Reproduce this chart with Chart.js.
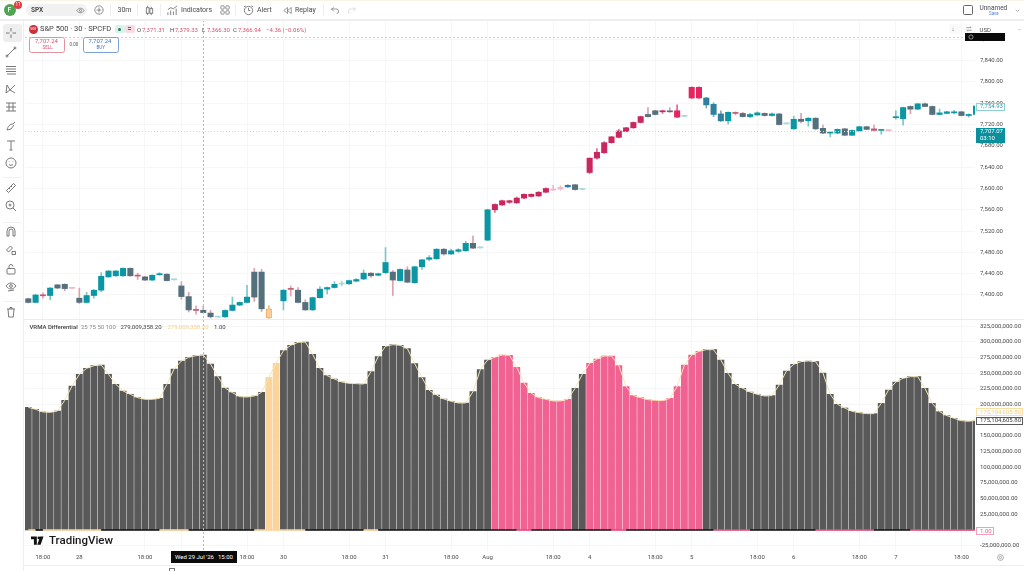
<!DOCTYPE html>
<html>
<head>
<meta charset="utf-8">
<title>SPX VRMA Differential</title>
<script src="https://cdn.jsdelivr.net/npm/chart.js@4"></script>
<style>
    html, body { margin: 0; padding: 0; background: #fff; }
    body { width: 1024px; height: 571px; position: relative; overflow: hidden; font-family: Roboto, sans-serif; color: #4a4a4a; }
    canvas { position: absolute; left: 0; filter: blur(0.35px); }
    #chrome { filter: blur(0.3px); position: absolute; left: 0; top: 0; width: 1024px; height: 571px; }
    .t { position: absolute; white-space: nowrap; line-height: 1; }
    .box { position: absolute; box-sizing: border-box; }
    svg.icon { position: absolute; fill: none; stroke: #6a6a6a; stroke-width: 0.9; }
</style>
</head>
<body>
<canvas id="priceChart" width="1024" height="299" style="top:20px"></canvas>
<canvas id="vrmaChart" width="1024" height="245" style="top:320px"></canvas>
<div id="chrome"></div>

<script>
// Candles, one entry per 30m bar
const candleOpen = [
    7386,7386,7399,7399,7413,7420,7413,7394,7386,7399,
    7409,7434,7436,7436,7450,7436,7434,7428,7438,7439,
    7429,7417,7397,7371.5,7371.31,7366,7359,7359,7371,7381,
    7386,7396,7443,7374,null,7389,7411,7409,7386,7372,
    7395,7411,7414,7421,7421,7426,7430,7441,7437,7442,
    7443,7427,7447,7423,7453,7467,7468,7486,7477,7482,
    7483,7497,7489,7503,7560,7569,7574,7573,7582,7585,
    7586,7593,7597,7599,7603,7607,7598.5,7630,7657,7667,
    7686,7696,7707,7714,7724,7735,7739,7744,7744,7746,
    7736,7770,7770,7770,7758,7740,7727,7741,7741,7735,
    7738,7741,7737,7740,7722,7712,7730,7727,7732,7713,
    7704,7704,7712,7700,7708,7716,7712,7709,7709,7733,
    7731,7754,7749,7759,7754,7739,7741,7742,7744,7737,7739
];
const candleHigh = [
    7394,7401,7404,7414,7420,7421,7414,7413,7405,7410,
    7442,7446,7446,7451,7451,7441,7435,7438,7442,7440,
    7430,7425,7405,7379.4,7379.33,7371,7360,7372,7396,7387,
    7418,7450,7448,7380,null,7410,7417,7414,7391,7396,
    7416,7415,7425,7426,7428,7431,7447,7442,7441,7489,
    7446,7449,7453,7454,7467,7474,7487,7487,7486,7487,
    7501,7511,7490,7561,7571,7578,7578,7584,7590,7590,
    7594,7601,7606,7605,7607,7608,7599,7657,7675,7688,
    7698,7711,7715,7725,7736,7752,7747,7747,7752,7757,
    7737,7791,7791,7771,7761,7746,7744,7744,7743,7741,
    7744,7742,7742,7741,7723,7736,7741,7733,7733,7719,
    7706,7712,7713,7710,7717,7717,7719,7710,7710,7746,
    7753,7755,7760,7761,7755,7749,7745,7747,7745,7740,7760
];
const candleLow = [
    7385,7386,7394,7391,7412,7408,7412,7384,7385,7394,
    7406,7433,7435,7435,7435,7429,7427,7427,7437,7426,
    7428,7392,7368,7364,7366.3,7357,7358,7358,7370,7380,
    7385,7388,7369,7356,null,7372,7398,7385,7371,7371,
    7394,7402,7413,7417,7420,7425,7429,7433,7436,7440,
    7399,7426,7423,7422,7448,7464,7467,7475,7476,7480,
    7482,7487,7488,7502,7555,7568,7572,7572,7581,7584,
    7585,7592,7596.5,7597,7602,7597,7598,7628,7655,7666,
    7685,7695,7706,7713,7723,7734,7738,7741,7743,7733,
    7735,7769,7769,7751,7735,7726,7721,7738,7734,7733,
    7737,7736,7736,7719,7721,7711,7723,7717,7710,7703,
    7697,7703,7699,7699,7707,7710,7708,7702,7708,7730,
    7719,7740,7748,7753,7738,7738,7740,7740,7736,7734,7738
];
const candleClose = [
    7393,7400,7398.5,7413,7419,7412,7412.5,7386,7399,7409,
    7435,7445,7445,7450,7436,7435.5,7428,7437,7440,7427,
    7428.5,7397,7372,7371,7366.94,7359,7358.5,7371,7381,7386,
    7396,7443,7374,7357,null,7409,7410.5,7386,7372,7395,
    7411,7414,7420,7420.5,7427,7429,7441,7436,7440,7461,
    7428,7448,7424,7453,7466,7470,7486,7477,7483,7485,
    7497,7488,7488.5,7560,7570,7577,7577,7582,7589,7589,
    7593,7600,7598,7602,7606,7598,7598.2,7657,7668,7686,
    7697,7708,7714,7724,7735,7739,7746,7746,7745,7734,
    7735.5,7790,7790,7757,7739,7727,7743,7742,7735,7739,
    7742,7737,7740,7720,7721.5,7730,7726,7732,7712,7704,
    7704.5,7711,7700,7709,7716,7711,7709,7709.5,7708.5,7734,
    7752,7749,7759,7754,7739,7742,7744,7744,7737,7739,7754.93
];
// T teal, S slate, R crimson, P bright red, B blue, X small red cross, D pale teal dash, E pale red dash, O orange
const candleKinds = (
    'STXTSSESTT' + 'TTTTSXSTTS' + 'DSSXSSDTTT' + 'TSSOTTXSST' + 'TTTDTTTSTT' +
    'STSTTTTSTT' + 'TSDTRRRRRR' + 'RREEBSDRRR' + 'RRRRRSSRSP' + 'DPPBBBTXST' +
    'TSTSDTSTSS' + 'TTSTTSXTET' + 'TSTSSTTTSTT').split('');

// VRMA Differential histogram, values read in millions
const vrmaValues = [
    195.7,192.5,188.3,187.7,189.8,206.9,229.7,248.3,257.9,262.2,
    263.2,248.3,232.4,221.8,216.4,211.1,208.5,208.5,210,232.4,
    256.9,269.6,275.5,278.1,279.009,264.8,244.6,226.5,219.1,212.7,
    212.2,213.8,219.6,243.6,265.9,286.1,294.6,299.4,299.9,280.3,
    257.9,246.2,240.9,236.1,234,233.5,232.9,252.6,276.5,293,
    295.7,294.6,289.3,265.4,243,222.8,215.4,209,205.3,202.6,
    202.6,220.7,255.8,271.2,275.5,279.2,278.7,259.5,234.5,218,
    211.1,208.5,205.8,205.8,208.5,226,248.3,265.9,272.8,277.6,
    277.6,262.2,228.7,214.3,211.1,207.9,206.9,206.3,210,228.7,
    263.2,279.2,285,287.7,287.7,271.2,249.9,232.4,226,220.2,
    216.4,213.8,214.3,231.3,253.7,264.3,268.6,269.6,268.6,250.5,
    216.4,200.5,194.6,189.3,187.2,185.6,185.6,202,223.4,236.1,
    242,244.6,244.6,226,202,188.8,182.5,178.2,174.4,173.4,175.104605
];
// g grey, o orange, p pink
const vrmaKinds = (
    'gggggggggg' + 'gggggggggg' + 'gggggggggg' + 'gggooggggg' + 'gggggggggg' +
    'gggggggggg' + 'ggggpppppp' + 'pppppggppp' + 'pppppppppp' + 'pppggggggg' +
    'gggggggggg' + 'gggggggggg' + 'ggggggggggg').split('');
// Thin strip along the zero line: k black, o orange, p pink
const stripKinds = (
    'okoooooooo' + 'kkkkkkkkoo' + 'ookkkkkkkk' + 'koooooookk' + 'kkkkkkoo' + 'kk' +
    'kkkkkkkkkk' + 'kkkkkkkppk' + 'kkkkkkkkkk' + 'ppkkkkkkkk' + 'kkkkpppppk' +
    'kkkkkkkkpp' + 'ppppppkkkk' + 'kppppppppp' + 'p').split('');
const stripLevel = 1;

const priceTicks = [7400,7440,7480,7520,7560,7600,7640,7680,7720,7760,7800,7840,7880];
const vrmaTicks = [-25,25,50,75,100,125,150,175,200,225,250,275,300,325];
const timeTickBars = [2,7,16,21,30,35,44,49,58,63,72,77,86,91,100,105,114,119,128];
const timeTickLabels = ['18:00','28','18:00','29','18:00','30','18:00','31','18:00','Aug','18:00','4','18:00','5','18:00','6','18:00','7','18:00'];

const hoverBar = 24;
const hoverPrice = 7884.5;
const lastClose = 7754.93;
const livePrice = 7707.07;
const vrmaLast = 175.1046058;

const axisFont = { family: 'Roboto, sans-serif', size: 6 };
const axisColor = '#4a4a4a';
const gridColor = '#f6f6f6';

const bodyColors = { T: '#0a96a3', S: '#54707c', R: '#c8285f', P: '#e6245f', B: '#2f7f9f', X: '#c25a70', D: '#a6d8db', E: '#f0b8c4', O: '#fbcf9a' };
const wickColors = { T: '#7cc6cc', S: '#dba2ae', R: '#d9708f', P: '#e0688c', B: '#78a9bc', X: '#e8a0b0', D: '#a6d8db', E: '#f0b8c4', O: '#f3b886' };
const vrmaColors = { g: '#595959', o: '#fbd49c', p: '#f06292' };
const stripColors = { k: '#151515', o: '#fbd49c', p: '#ea4c84' };

// Draws the dashed crosshair, price lines and value tags through the scales
const paneMarks = {
    id: 'paneMarks',
    afterDatasetsDraw(chart, args, opts) {
        const { ctx, chartArea, scales } = chart;
        ctx.save();
        const hx = Math.round(scales.x.getPixelForValue(hoverBar)) + 0.5;
        ctx.strokeStyle = '#b4b8c4';
        ctx.lineWidth = 1;
        ctx.setLineDash([2, 2]);
        ctx.beginPath();
        ctx.moveTo(hx, chartArea.top);
        ctx.lineTo(hx, chartArea.bottom);
        ctx.stroke();
        (opts.lines || []).forEach(line => {
            const ly = Math.round(scales.y.getPixelForValue(line.value)) + 0.5;
            ctx.strokeStyle = line.color;
            ctx.setLineDash(line.dash);
            ctx.beginPath();
            ctx.moveTo(chartArea.left, ly);
            ctx.lineTo(chartArea.right, ly);
            ctx.stroke();
        });
        ctx.restore();
    },
    afterDraw(chart, args, opts) {
        const { ctx, chartArea, scales } = chart;
        ctx.save();
        ctx.textBaseline = 'middle';
        ctx.font = '6px Roboto, sans-serif';
        (opts.tags || []).forEach(tag => {
            const cy = scales.y.getPixelForValue(tag.value) + (tag.shift || 0);
            const h = tag.height || 8;
            const x = chartArea.right + 1;
            ctx.fillStyle = tag.fill;
            ctx.fillRect(x, cy - h / 2, tag.width, h);
            ctx.strokeStyle = tag.border;
            ctx.strokeRect(x + 0.5, Math.round(cy - h / 2) + 0.5, tag.width - 1, h - 1);
            ctx.fillStyle = tag.color;
            tag.lines.forEach((text, i) => {
                ctx.fillText(text, x + 4, cy - (tag.lines.length - 1) * 3.5 + i * 7);
            });
        });
        ctx.restore();
    }
};

// The pane edges are fixed, so no room is kept for overflowing tick labels
function fitYAxis(scale) {
    scale.width = 49;
    scale.paddingTop = 0;
    scale.paddingBottom = 0;
}

function xAxis(showLabels) {
    return {
        type: 'linear',
        min: -0.453,
        max: 129.86,
        offset: false,
        grid: { color: gridColor, drawTicks: false, offset: false },
        border: { display: false },
        afterBuildTicks: scale => { scale.ticks = timeTickBars.map(v => ({ value: v })); },
        afterFit: scale => {
            scale.height = showLabels ? 14 : 0;
            scale.paddingLeft = 0;
            scale.paddingRight = 0;
        },
        ticks: {
            display: showLabels,
            autoSkip: false,
            maxRotation: 0,
            padding: 3,
            color: axisColor,
            font: axisFont,
            callback: value => timeTickLabels[timeTickBars.indexOf(value)]
        }
    };
}

function buildPriceChart() {
    const bars = candleOpen.map((_, i) => i);
    return new Chart(document.getElementById('priceChart'), {
        type: 'bar',
        plugins: [paneMarks],
        data: {
            datasets: [
                {
                    label: 'Body',
                    order: 0,
                    grouped: false,
                    barThickness: 5.4,
                    minBarLength: 1,
                    data: bars.map(i => ({ x: i, y: candleOpen[i] === null ? null : [candleOpen[i], candleClose[i]] })),
                    backgroundColor: candleKinds.map(k => bodyColors[k]),
                    borderColor: candleKinds.map(k => k === 'O' ? '#f0aa66' : bodyColors[k]),
                    borderWidth: candleKinds.map(k => k === 'O' ? 1 : 0),
                    borderSkipped: false
                },
                {
                    label: 'Wick',
                    order: 1,
                    grouped: false,
                    barThickness: 1,
                    data: bars.map(i => ({ x: i, y: candleHigh[i] === null ? null : [candleLow[i], candleHigh[i]] })),
                    backgroundColor: candleKinds.map(k => wickColors[k])
                }
            ]
        },
        options: {
            responsive: false,
            animation: false,
            events: [],
            layout: { padding: { left: 25 } },
            plugins: {
                legend: { display: false },
                tooltip: { enabled: false },
                paneMarks: {
                    lines: [
                        { value: hoverPrice, color: '#cfcfcf', dash: [2, 2] },
                        { value: livePrice, color: '#b4e2e5', dash: [1, 2] }
                    ],
                    tags: [
                        { value: lastClose, shift: 1, width: 29, fill: '#ffffff', border: '#8fd0d6', color: '#2a9aa5', lines: ['7,754.93'] },
                        { value: livePrice, shift: 4, width: 29, height: 15, fill: '#0a8f9c', border: '#0a8f9c', color: '#ffffff', lines: ['7,707.07', '03:10'] }
                    ]
                }
            },
            scales: {
                x: xAxis(false),
                y: {
                    position: 'right',
                    min: 7354.9,
                    max: 7916.4,
                    grid: { color: gridColor, drawTicks: false },
                    border: { display: false },
                    afterBuildTicks: scale => { scale.ticks = priceTicks.map(v => ({ value: v })); },
                    afterFit: fitYAxis,
                    ticks: {
                        padding: 5,
                        color: axisColor,
                        font: axisFont,
                        callback: value => value.toLocaleString('en-US', { minimumFractionDigits: 2 })
                    }
                }
            }
        }
    });
}

function buildVrmaChart() {
    const bars = vrmaValues.map((v, i) => ({ x: i, y: v }));
    return new Chart(document.getElementById('vrmaChart'), {
        type: 'bar',
        plugins: [paneMarks],
        data: {
            datasets: [
                {
                    type: 'line',
                    label: 'Strip',
                    order: 0,
                    data: stripKinds.map((k, i) => ({ x: i, y: stripLevel / 1e6 })),
                    borderWidth: 1.6,
                    pointRadius: 0,
                    segment: { borderColor: c => stripColors[stripKinds[c.p0DataIndex]] }
                },
                {
                    type: 'line',
                    label: 'VRMA line',
                    order: 1,
                    data: bars,
                    borderColor: '#f4e6b4',
                    borderWidth: 1,
                    pointRadius: 0
                },
                {
                    label: 'VRMA',
                    order: 2,
                    grouped: false,
                    barThickness: 6.2,
                    data: bars,
                    backgroundColor: vrmaKinds.map(k => vrmaColors[k])
                }
            ]
        },
        options: {
            responsive: false,
            animation: false,
            events: [],
            layout: { padding: { left: 25 } },
            plugins: {
                legend: { display: false },
                tooltip: { enabled: false },
                paneMarks: {
                    tags: [
                        { value: vrmaLast, shift: -8, width: 47, fill: '#ffffff', border: '#f8dfa6', color: '#f3cc80', lines: ['175,104,605.80'] },
                        { value: vrmaLast, shift: 0.5, width: 47, fill: '#ffffff', border: '#5a5a5a', color: '#3a3a3a', lines: ['175,104,605.80'] },
                        { value: stripLevel / 1e6, shift: 1.5, width: 18, fill: '#ffffff', border: '#f0a0bc', color: '#e8608c', lines: ['1.00'] }
                    ]
                }
            },
            scales: {
                x: xAxis(true),
                y: {
                    position: 'right',
                    min: -33.5,
                    max: 335,
                    grid: { color: gridColor, drawTicks: false },
                    border: { display: false },
                    afterBuildTicks: scale => { scale.ticks = vrmaTicks.map(v => ({ value: v })); },
                    afterFit: fitYAxis,
                    ticks: {
                        padding: 5,
                        color: axisColor,
                        font: axisFont,
                        callback: value => (value * 1e6).toLocaleString('en-US', { minimumFractionDigits: 2 })
                    }
                }
            }
        }
    });
}

// Page furniture round the charts
const chrome = document.getElementById('chrome');

function addText(x, y, text, size, color, weight) {
    const el = document.createElement('div');
    el.className = 't';
    el.textContent = text;
    el.style.cssText = `left:${x}px;top:${y}px;font-size:${size}px;color:${color || '#4a4a4a'};font-weight:${weight || 400}`;
    chrome.appendChild(el);
    return el;
}

function addBox(x, y, w, h, css) {
    const el = document.createElement('div');
    el.className = 'box';
    el.style.cssText = `left:${x}px;top:${y}px;width:${w}px;height:${h}px;${css}`;
    chrome.appendChild(el);
    return el;
}

function addIcon(x, y, paths, size) {
    const s = size || 12;
    const wrap = document.createElement('div');
    wrap.innerHTML = `<svg class="icon" viewBox="0 0 12 12" width="${s}" height="${s}" style="left:${x - s / 2}px;top:${y - s / 2}px">${paths}</svg>`;
    chrome.appendChild(wrap.firstChild);
}

function buildChrome() {
    // top bar and frame
    addBox(0, 0, 1024, 1, 'background:#f7f5e6');
    addBox(0, 19, 1024, 2, 'background:#eeeeee');
    addBox(23, 21, 1, 550, 'background:#eeeeee');
    addBox(24, 319, 1000, 1, 'background:#ececec');
    addBox(24, 565, 1000, 1, 'background:#eeeeee');

    addBox(4, 4, 12, 12, 'background:#4fa352;border-radius:50%');
    addText(7.5, 7, 'F', 7, '#fff', 500);
    addBox(14, 1, 8, 8, 'background:#e53945;border-radius:50%');
    addText(15.6, 3, '11', 4.5, '#fff');
    addBox(26, 4, 61, 12, 'background:#f1f1f1;border-radius:6px');
    addText(31, 6.5, 'SPX', 6.5, '#4a4a4a', 700);
    addIcon(80.5, 10, '<path d="M1 6c3-4 7-4 10 0-3 4-7 4-10 0z"/><circle cx="6" cy="6" r="1.5"/>', 9);
    addIcon(99, 10, '<circle cx="6" cy="6" r="5"/><path d="M6 3v6M3 6h6"/>', 10);
    addText(117.5, 6.5, '30m', 7);
    addIcon(149, 10, '<path d="M4 1v10M8 2v9"/><rect x="2.5" y="3" width="3" height="6" fill="#fff"/><rect x="6.5" y="4" width="3" height="5" fill="#fff"/>', 11);
    addIcon(172, 10, '<path d="M1 11V8M4 11V6M7 11V7M10 11V4M1 5l3-2 3 1 4-3"/>', 11);
    addText(181, 6.5, 'Indicators', 7);
    addIcon(225, 10, '<rect x="1" y="1" width="4" height="4" rx="1"/><rect x="7" y="1" width="4" height="4" rx="1"/><rect x="1" y="7" width="4" height="4" rx="1"/><rect x="7" y="7" width="4" height="4" rx="1"/>', 10);
    addIcon(248, 10, '<circle cx="6" cy="6" r="4.5"/><path d="M6 3v3h2M1 2l2-1M11 2L9 1"/>', 11);
    addText(257, 6.5, 'Alert', 7);
    addIcon(287, 10, '<path d="M6 2L1 6l5 4zM11 2L6 6l5 4z"/>', 9);
    addText(295, 6.5, 'Replay', 7);
    addIcon(334, 10, '<path d="M2 4h6a3 3 0 0 1 1 6M2 4l3-2M2 4l3 3"/>', 9);
    addIcon(352, 10, '<path d="M10 4H4a3 3 0 0 0-1 6M10 4L7 2M10 4L7 7" stroke="#cfcfcf"/>', 9);
    [110, 137, 160, 235, 323].forEach(x => addBox(x, 4, 1, 12, 'background:#eeeeee'));
    addBox(963, 5, 10, 10, 'border:1px solid #666;border-radius:1.5px');
    addText(979.5, 5, 'Unnamed', 6.5);
    addText(989, 12, 'Save', 4.5, '#5a7fd8');
    addIcon(1017, 10, '<path d="M3 4.5l3 3 3-3"/>', 7);

    // left tool strip
    addBox(3, 24, 19, 18, 'background:#eeeeee;border-radius:3px');
    const tools = [
        [33, '<path d="M6 1v3.5M6 7.5V11M1 6h3.5M7.5 6H11"/>'],
        [52, '<path d="M2 10l8-8"/><circle cx="2" cy="10" r="1"/><circle cx="10" cy="2" r="1"/>'],
        [70, '<path d="M1 2.5h10M1 5h10M1 7.5h10M2 10h9"/>'],
        [89, '<path d="M2 2l3 5 5-5M5 7l5 3M2 2l-1 8 4-3"/>'],
        [107, '<path d="M1 2h10M1 6h10M1 10h10M4 2v8M8 2v8"/>'],
        [126, '<path d="M2 10c1-4 3-6 6-6l2-2M2 10l4-1 3-4"/>'],
        [145, '<path d="M2 2h8M6 2v9M4.5 11h3"/>'],
        [163, '<circle cx="6" cy="6" r="5"/><path d="M4 7.5c1 1 3 1 4 0M4.2 4.5v.6M7.8 4.5v.6"/>'],
        [188, '<path d="M1.5 8.5l7-7 2 2-7 7zM4 6l1 1M6 4l1 1"/>'],
        [206, '<circle cx="5" cy="5" r="4"/><path d="M8 8l3 3M3.5 5h3M5 3.5v3"/>'],
        [231, '<path d="M2 11V6a4 4 0 0 1 8 0v5H8V6a2 2 0 0 0-4 0v5z"/>'],
        [250, '<path d="M1.5 6l4-4 2 2-4 4zM7 7.5h3.5v3H7z"/>'],
        [269, '<rect x="2" y="5.5" width="8" height="5.5" rx="1"/><path d="M4 5.5V3.5a2 2 0 0 1 4 0"/>'],
        [287, '<path d="M1 5c3-4 7-4 10 0-3 4-7 4-10 0zM3 10l6-1"/><circle cx="6" cy="5" r="1.4"/>'],
        [312, '<path d="M2 3h8M5 3V1.5h2V3M3 3l.7 8h4.6L9 3"/>']
    ];
    tools.forEach(t => addIcon(11, t[0], t[1]));
    [177, 222, 301].forEach(y => addBox(3, y, 18, 1, 'background:#f0f0f0'));

    // series legend
    addBox(29, 24.5, 9, 9, 'background:#cc2f3c;border-radius:50%');
    addText(30.3, 27.5, '500', 3.5, '#fff');
    addText(40, 25, 'S&P 500 · 30 · SPCFD', 7.5, '#3f3f3f');
    addBox(115, 25, 10, 8, 'background:#d9f2ec;border-radius:2px');
    addBox(118, 27.5, 3, 3, 'background:#1f7a5c;border-radius:50%');
    addBox(125, 25, 10, 8, 'background:#f9dbe3;border-radius:2px');
    addText(127.5, 26, '=', 7, '#c8285f', 700);
    const ohlc = [[137, 'O'], [170, 'H'], [202, 'L'], [233, 'C']];
    const ohlcValues = ['7,371.31', '7,379.33', '7,366.30', '7,366.94'];
    ohlc.forEach((item, i) => {
        addText(item[0], 26.5, item[1], 6, '#4a4a4a');
        addText(item[0] + 5, 26.5, ohlcValues[i], 6, '#d6526e');
    });
    addText(266, 26.5, '−4.36 (−0.06%)', 6, '#d6526e');

    addBox(29, 37, 36, 16, 'background:#fff;border:1px solid #e0939f;border-radius:2.5px');
    addText(35, 38, '7,707.24', 6, '#d6526e');
    addText(42.5, 45.7, 'SELL', 4.5, '#d6526e');
    addText(69.5, 43, '0.00', 4.5, '#555');
    addBox(83, 37, 36, 16, 'background:#fff;border:1px solid #7da0d8;border-radius:2.5px');
    addText(88.5, 38, '7,707.24', 6, '#3f72c4');
    addText(96.5, 45.7, 'BUY', 4.5, '#3f72c4');

    // pane controls at top right
    addBox(949, 24, 12, 10, 'background:#fafafa');
    addText(951.5, 26, '↓', 6, '#666');
    addBox(963, 24, 12, 10, 'background:#fafafa');
    addIcon(968.5, 29, '<path d="M2 4h7l-1-1.5M10 8H3l1 1.5"/>', 8);
    addBox(976, 24, 48, 11, 'background:#fff');
    addText(979.5, 26.5, 'USD', 6);
    addIcon(1019, 29.5, '<path d="M3 4.5l3 3 3-3"/>', 5);
    addBox(965, 33, 40, 8, 'background:#0a0a0a');
    addBox(967, 33, 8, 8, 'border:1px solid #ddd;border-radius:50%;transform:scale(.6)');

    // study legend and watermark
    addText(29.5, 324, 'VRMA Differential', 6, '#3f3f3f', 500);
    addText(81, 324.2, '25 75 50 100', 6, '#8a8a8a');
    addText(120.5, 324.2, '279,009,358.20', 6, '#3f3f3f');
    addText(167.5, 324.2, '279,009,358.20', 6, '#f6d089');
    addText(214, 324.2, '1.00', 6, '#3f3f3f');

    const logo = document.createElement('div');
    logo.innerHTML = '<svg viewBox="0 0 36 28" width="15" height="12" style="position:absolute;left:31px;top:535px"><path fill="#111" d="M0 3h14v20H7V10H0zM22 3l-7 20h8l7-20z"/><circle cx="19" cy="6.5" r="3.5" fill="#111"/></svg>';
    chrome.appendChild(logo.firstChild);
    addText(49, 535, 'TradingView', 11.5, '#1a1a1a', 500);

    // time axis hover tag and settings
    addBox(171, 551, 66, 12, 'background:#0b0b0b');
    addText(175, 554, "Wed 29 Jul '26", 6, '#fff');
    addText(218, 554, '15:00', 6, '#fff');
    addIcon(1000.5, 557.5, '<circle cx="6" cy="6" r="5"/><circle cx="6" cy="6" r="2"/>', 7);
    addBox(169, 568, 6, 3, 'border:1px solid #777;border-bottom:0');
}

document.addEventListener('DOMContentLoaded', function() {
    buildPriceChart();
    buildVrmaChart();
    buildChrome();
});
</script>
</body>
</html>
